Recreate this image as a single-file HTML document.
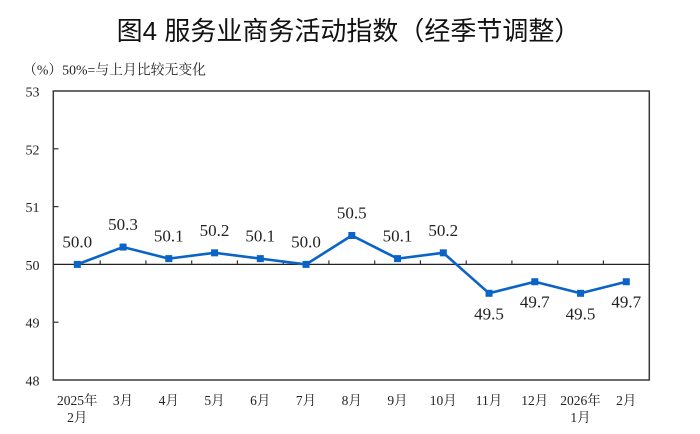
<!DOCTYPE html>
<html><head><meta charset="utf-8">
<style>
html,body{margin:0;padding:0;background:#fff;}
svg{display:block;}
.serif{font-family:"Liberation Serif","Noto Serif CJK SC",serif;}
</style></head>
<body>
<svg width="700" height="434" viewBox="0 0 700 434" xmlns="http://www.w3.org/2000/svg">
<rect width="700" height="434" fill="#fff"/>
<text x="348.5" y="40" text-anchor="middle" font-family="'Liberation Sans','Noto Sans CJK SC',sans-serif" font-size="26" font-weight="normal" fill="#111">图4 服务业商务活动指数（经季节调整）</text>
<text x="23" y="74.5" class="serif" font-size="14" fill="#222" textLength="183" lengthAdjust="spacingAndGlyphs">（%）50%=与上月比较无变化</text>

<!-- plot box -->
<rect x="53.3" y="91" width="596" height="289" fill="none" stroke="#3a3a3a" stroke-width="1.5"/>
<!-- 50 line -->
<line x1="53.3" y1="264.4" x2="649.3" y2="264.4" stroke="#222" stroke-width="1.3"/>
<!-- y ticks -->
<g stroke="#333" stroke-width="1.2">
<line x1="53.3" y1="148.8" x2="58.5" y2="148.8"/>
<line x1="53.3" y1="206.6" x2="58.5" y2="206.6"/>
<line x1="53.3" y1="322.2" x2="58.5" y2="322.2"/>
</g>
<!-- x ticks on 50 line -->
<g stroke="#333" stroke-width="1.2">
<line x1="100.2" y1="264.4" x2="100.2" y2="260.4"/>
<line x1="145.9" y1="264.4" x2="145.9" y2="260.4"/>
<line x1="191.7" y1="264.4" x2="191.7" y2="260.4"/>
<line x1="237.4" y1="264.4" x2="237.4" y2="260.4"/>
<line x1="283.2" y1="264.4" x2="283.2" y2="260.4"/>
<line x1="328.9" y1="264.4" x2="328.9" y2="260.4"/>
<line x1="374.7" y1="264.4" x2="374.7" y2="260.4"/>
<line x1="420.4" y1="264.4" x2="420.4" y2="260.4"/>
<line x1="466.2" y1="264.4" x2="466.2" y2="260.4"/>
<line x1="511.9" y1="264.4" x2="511.9" y2="260.4"/>
<line x1="557.7" y1="264.4" x2="557.7" y2="260.4"/>
<line x1="603.4" y1="264.4" x2="603.4" y2="260.4"/>
</g>
<!-- y labels -->
<g class="serif" font-size="14" fill="#222" text-anchor="end">
<text x="39.5" y="96.5">53</text>
<text x="39.5" y="154.3">52</text>
<text x="39.5" y="212.1">51</text>
<text x="39.5" y="269.9">50</text>
<text x="39.5" y="327.7">49</text>
<text x="39.5" y="385.5">48</text>
</g>
<!-- series -->
<polyline fill="none" stroke="#0a64c8" stroke-width="2.6" stroke-linejoin="round"
points="77.3,264.4 123.05,247.06 168.8,258.62 214.55,252.84 260.3,258.62 306.05,264.4 351.8,235.5 397.55,258.62 443.3,252.84 489.05,293.3 534.8,281.74 580.55,293.3 626.3,281.74"/>
<g fill="#0a64c8">
<rect x="73.8" y="260.9" width="7" height="7"/>
<rect x="119.55" y="243.56" width="7" height="7"/>
<rect x="165.3" y="255.12" width="7" height="7"/>
<rect x="211.05" y="249.34" width="7" height="7"/>
<rect x="256.8" y="255.12" width="7" height="7"/>
<rect x="302.55" y="260.9" width="7" height="7"/>
<rect x="348.3" y="232" width="7" height="7"/>
<rect x="394.05" y="255.12" width="7" height="7"/>
<rect x="439.8" y="249.34" width="7" height="7"/>
<rect x="485.55" y="289.8" width="7" height="7"/>
<rect x="531.3" y="278.24" width="7" height="7"/>
<rect x="577.05" y="289.8" width="7" height="7"/>
<rect x="622.8" y="278.24" width="7" height="7"/>
</g>
<!-- data labels -->
<g class="serif" font-size="17" fill="#222" text-anchor="middle">
<text x="77.3" y="247.4">50.0</text>
<text x="123.05" y="230.06">50.3</text>
<text x="168.8" y="241.62">50.1</text>
<text x="214.55" y="235.84">50.2</text>
<text x="260.3" y="241.62">50.1</text>
<text x="306.05" y="247.4">50.0</text>
<text x="351.8" y="218.5">50.5</text>
<text x="397.55" y="241.62">50.1</text>
<text x="443.3" y="235.84">50.2</text>
<text x="489.05" y="319.3">49.5</text>
<text x="534.8" y="307.74">49.7</text>
<text x="580.55" y="319.3">49.5</text>
<text x="626.3" y="307.74">49.7</text>
</g>
<!-- x labels -->
<g class="serif" font-size="13.5" fill="#222" text-anchor="middle">
<text x="77.3" y="405">2025年</text>
<text x="77.3" y="422">2月</text>
<text x="123.05" y="405">3月</text>
<text x="168.8" y="405">4月</text>
<text x="214.55" y="405">5月</text>
<text x="260.3" y="405">6月</text>
<text x="306.05" y="405">7月</text>
<text x="351.8" y="405">8月</text>
<text x="397.55" y="405">9月</text>
<text x="443.3" y="405">10月</text>
<text x="489.05" y="405">11月</text>
<text x="534.8" y="405">12月</text>
<text x="580.55" y="405">2026年</text>
<text x="580.55" y="422">1月</text>
<text x="626.3" y="405">2月</text>
</g>
</svg>
</body></html>
